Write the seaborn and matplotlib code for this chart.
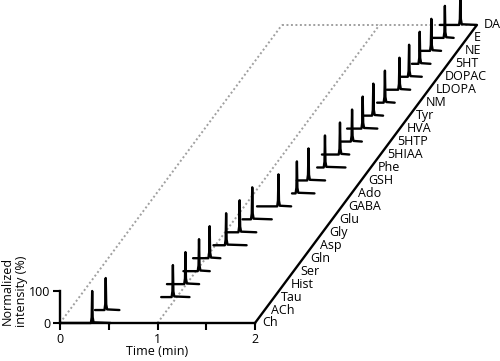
import numpy as np
import pandas as pd
import matplotlib
matplotlib.use("Agg")
import matplotlib.pyplot as plt
import seaborn as sns

# ---- data ----
compounds = ["Ch", "ACh", "Tau", "Hist", "Ser", "Gln", "Asp", "Gly", "Glu", "GABA",
             "Ado", "GSH", "Phe", "5HIAA", "5HTP", "HVA", "Tyr", "NM", "LDOPA",
             "DOPAC", "5HT", "NE", "E", "DA"]
peak_time = [0.33, 0.37, 0.96, 0.99, 1.03, 1.04, 1.11, 1.15, 1.18, 1.35,
             1.44, 1.46, 1.53, 1.585, 1.61, 1.62, 1.63, 1.65, 1.70,
             1.70, 1.71, 1.73, 1.77, 1.83]
win_start = [0.00, 0.26, 0.84, 0.80, 0.87, 0.87, 0.98, 1.01, 1.08, 1.13,
             1.39, 1.34, 1.45, 1.40, 1.49, 1.46, 1.53, 1.57, 1.57,
             1.61, 1.63, 1.61, 1.65, 1.62]
win_end = [0.52, 0.51, 1.13, 1.13, 1.14, 1.15, 1.32, 1.32, 1.38, 1.48,
           1.62, 1.63, 1.74, 1.68, 1.71, 1.77, 1.73, 1.75, 1.81,
           1.83, 1.82, 1.83, 1.86, 2.00]
peak_height = [100] * len(compounds)

x_ticks = [0, 0.5, 1, 1.5, 2]
x_ticklabels = ["0", "", "1", "", "2"]
y_ticks = [0, 100]
y_ticklabels = ["0", "100"]

# ---- layout / projection constants ----
PX_PER_MIN = 97.5
PX_PER_PCT = 0.32
DX = 9.65 / PX_PER_MIN      # depth step in minutes
DY = 12.96 / PX_PER_PCT     # depth step in % units
peak_rel_t = [-0.013, -0.005, 0.0, 0.005, 0.014]
peak_rel_h = [0.0, 0.18, 1.0, 0.18, 0.02]

sns.set_theme(style="white")
plt.rcParams["font.family"] = ["Open Sans", "DejaVu Sans"]

rows = []
for i, name in enumerate(compounds):
    ts = [win_start[i]] + [peak_time[i] + r for r in peak_rel_t] + [win_end[i]]
    hs = [0.0] + [peak_height[i] * r for r in peak_rel_h] + [0.0]
    for k, (t, h) in enumerate(zip(ts, hs)):
        rows.append({"compound": name, "order": k,
                     "xp": t + i * DX, "yp": h + i * DY})
df = pd.DataFrame(rows)

fig = plt.figure(figsize=(5.0, 3.61), dpi=100)
ax = fig.add_axes([0, 0, 1, 1])
ax.set_xlim(-60 / PX_PER_MIN, 440 / PX_PER_MIN)
ax.set_ylim(-38 / PX_PER_PCT, 323 / PX_PER_PCT)
ax.patch.set_alpha(0)

n = len(compounds) - 1
# back guide lines (dotted)
dot_kw = dict(color="#a0a0a0", linestyle=(0, (1, 1.3)), linewidth=1.4, zorder=1)
ax.plot([0, n * DX], [0, n * DY], **dot_kw)
ax.plot([1, 1 + n * DX], [0, n * DY], **dot_kw)
ax.plot([n * DX, 2 + n * DX], [n * DY, n * DY], **dot_kw)
# depth axis
ax.plot([2, 2 + n * DX], [0, n * DY], color="black", linewidth=1.7,
        solid_capstyle="butt", zorder=2)

sns.lineplot(data=df, x="xp", y="yp", units="compound", estimator=None,
             sort=False, color="black", linewidth=1.7, legend=False, ax=ax,
             zorder=3)

for i, name in enumerate(compounds):
    ax.text(2 + i * DX + 0.07, i * DY, name, ha="left", va="center",
            fontsize=9, color="black")

# front axes as real spines
for s in ["top", "right"]:
    ax.spines[s].set_visible(False)
ax.spines["bottom"].set_position(("data", 0))
ax.spines["left"].set_position(("data", 0))
ax.spines["bottom"].set_bounds(0, 2)
ax.spines["left"].set_bounds(0, 100)
for s in ["bottom", "left"]:
    ax.spines[s].set_linewidth(1.7)
    ax.spines[s].set_color("black")
    ax.spines[s].set_zorder(2)

ax.set_xticks(x_ticks)
ax.set_xticklabels(x_ticklabels)
ax.set_yticks(y_ticks)
ax.set_yticklabels(y_ticklabels)
ax.tick_params(axis="both", direction="out", length=5, width=1.5,
               color="black", labelsize=9, labelcolor="black")
ax.tick_params(axis="x", bottom=True, pad=2.5)
ax.tick_params(axis="y", left=True, pad=2)
ax.grid(False)

ax.set_xlabel("Time (min)", fontsize=9, color="black")
ax.xaxis.set_label_coords(1.0, -70, transform=ax.transData)
ax.set_ylabel("Normalized\nintensity (%)", fontsize=9, color="black",
              linespacing=1.1)
ax.yaxis.set_label_coords(-0.33, 100, transform=ax.transData)

fig.savefig("out.png", dpi=100)
